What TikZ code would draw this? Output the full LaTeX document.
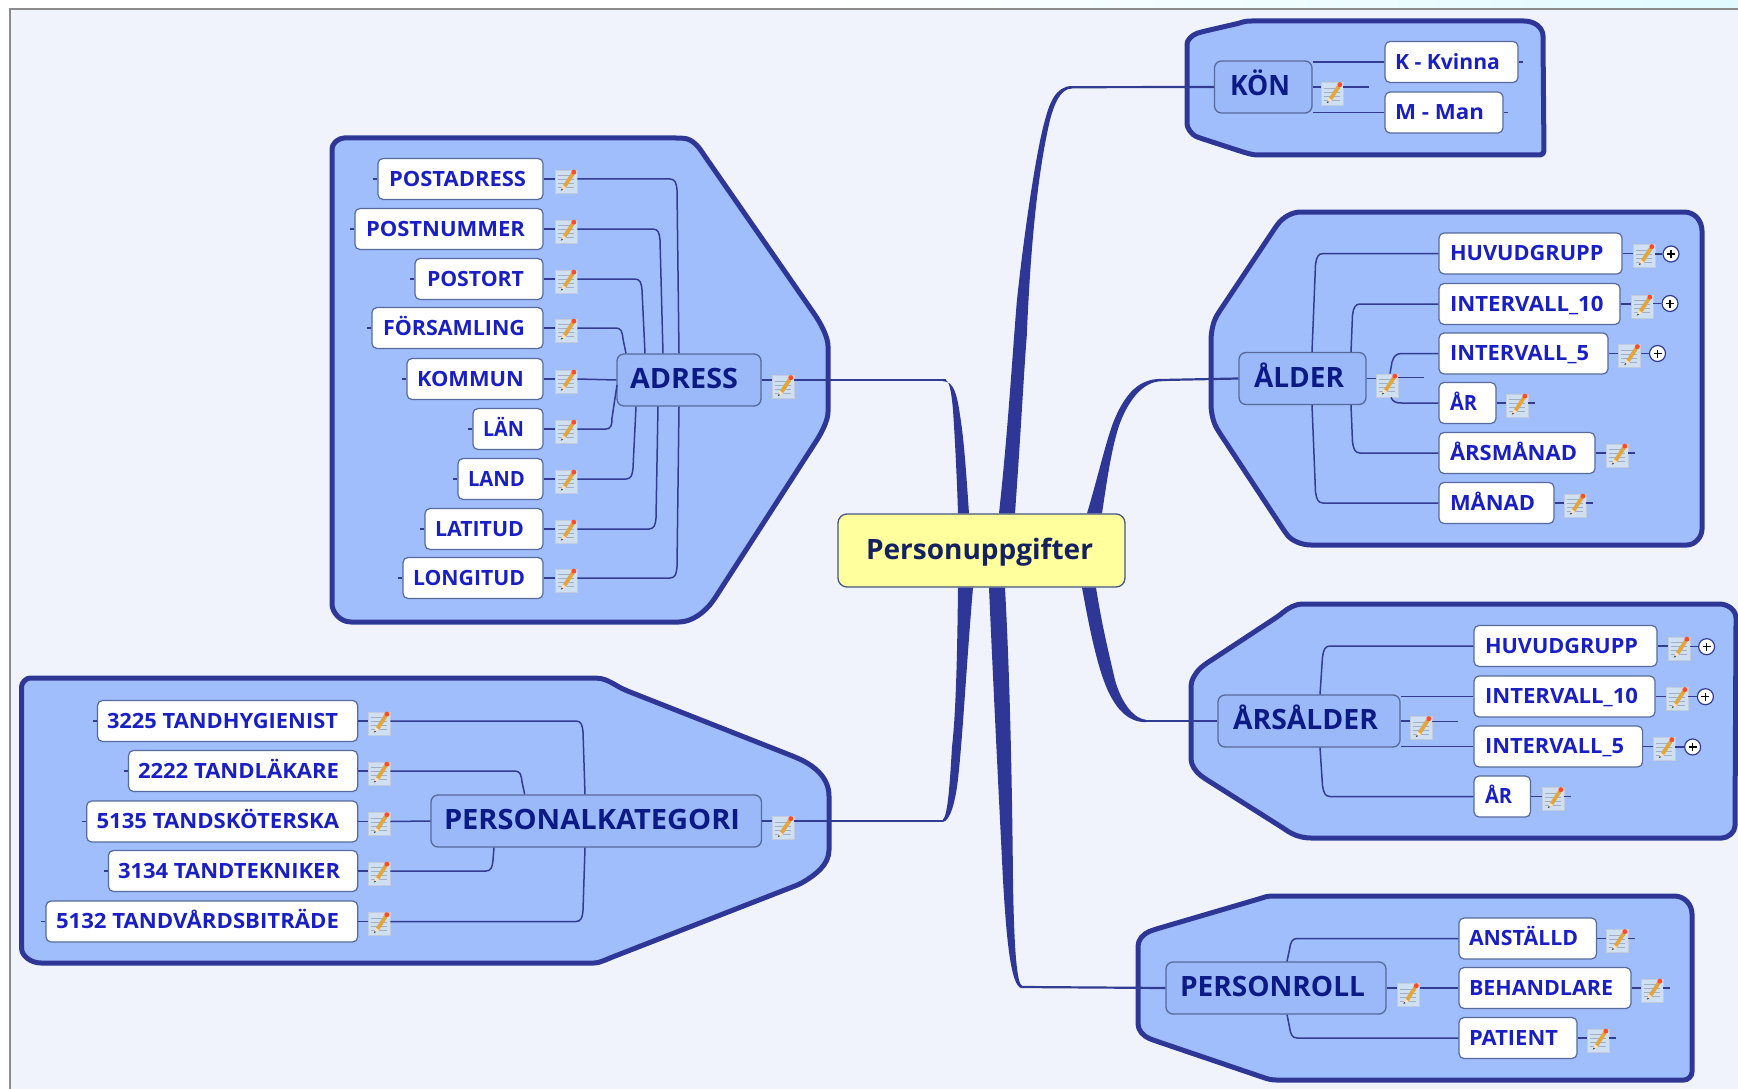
\documentclass[tikz,border=0pt]{standalone}
\usepackage{fontspec}
\usepackage{graphicx}
\setmainfont{Open Sans}
\definecolor{bgc}{HTML}{F0F3FC}
\definecolor{grpfill}{HTML}{A0BEFC}
\definecolor{grpline}{HTML}{2F3796}
\definecolor{prtfill}{HTML}{9BB9F9}
\definecolor{boxline}{HTML}{566A9C}
\definecolor{connc}{HTML}{323C92}
\definecolor{itemtxt}{HTML}{1A1FC4}
\definecolor{prttxt}{HTML}{0C1A86}
\definecolor{rootfill}{HTML}{FFFF9E}
\definecolor{roottxt}{HTML}{14205F}
\definecolor{noteblue}{HTML}{CFE0F2}
\definecolor{pencilc}{HTML}{E2A63A}
\newsavebox\fitbox
\newcommand{\fittext}[3]{\sbox\fitbox{\fontsize{#1}{#1}\selectfont\bfseries #3}\pgfmathsetmacro\fitr{#2/\wd\fitbox}\scalebox{\fitr}[1]{\usebox\fitbox}}
\tikzset{
  x=1pt,y=-1pt,
  grp/.style={draw=grpline,line width=5pt,fill=grpfill,line join=round,rounded corners=4pt},
  itembox/.style={draw=boxline,line width=1.2pt,fill=white,rounded corners=5pt,inner sep=0pt,minimum height=41pt,text height=14.6pt,text depth=0pt,text=itemtxt},
  prtbox/.style={draw=boxline,line width=1.3pt,fill=prtfill,rounded corners=7pt,inner sep=0pt,minimum height=52pt,text height=17.6pt,text depth=0pt,text=prttxt},
  rootbox/.style={draw=boxline!80!black,line width=1.3pt,fill=rootfill,rounded corners=9pt,inner sep=0pt,minimum height=73pt,text height=18pt,text depth=0pt,text=roottxt},
  conn/.style={draw=connc,line width=1.5pt},
  stub/.style={draw=connc,line width=1.5pt},
  main/.style={draw=connc,line width=2.2pt},
  taper/.style={fill=grpline},
  noteicon/.style={draw=white!65!boxline,line width=.8pt,fill=noteblue,inner sep=0pt,minimum width=22pt,minimum height=23pt},
  plusc/.style={circle,draw=connc,line width=1.2pt,fill=white,inner sep=0pt,minimum size=16pt,
    path picture={
      \draw[black,line width=1.5pt] ([xshift=-4pt]path picture bounding box.center) -- ([xshift=4pt]path picture bounding box.center);
      \draw[black,line width=1.5pt] ([yshift=-4pt]path picture bounding box.center) -- ([yshift=4pt]path picture bounding box.center);}},
}
% name, x1, x2, y, text x1, text x2, text
\newcommand{\mmitem}[7]{%
  \pgfmathsetmacro\bw{#3-#2}\pgfmathsetmacro\pad{#5-#2}\pgfmathsetmacro\tw{#6-#5}%
  \node[itembox,minimum width=\bw pt] (#1) at ({(#2+#3)/2},#4) {\makebox[\bw pt][l]{\hspace{\pad pt}\fittext{21}{\tw}{#7}}};}
\newcommand{\mmprt}[7]{%
  \pgfmathsetmacro\bw{#3-#2}\pgfmathsetmacro\pad{#5-#2}\pgfmathsetmacro\tw{#6-#5}%
  \node[prtbox,minimum width=\bw pt] (#1) at ({(#2+#3)/2},#4) {\makebox[\bw pt][l]{\hspace{\pad pt}\fittext{28}{\tw}{#7}}};}
% note icon: name, item, left x of the icon, stub from item east
\def\noteoff{-2.5pt}
\newcommand{\noteR}[3]{%
  \node[noteicon] (#1) at ({#3+11},0 |- #2.east) [yshift=\noteoff] {};
  \begin{scope}[shift={(#1.north west)}]
    \draw[white!45!boxline,line width=.6pt] (3,6) -- (19,6) (3,10) -- (19,10) (3,14) -- (19,14) (3,18) -- (19,18);
    \draw[pencilc,line width=3.8pt] (9.5,17.5) -- (18,4.5);
    \fill[orange!25!white] (6.5,20.5) -- (8,15.5) -- (11.8,18.2) -- cycle;
    \fill[black!75] (6.2,21) -- (7.2,19) -- (8.4,19.9) -- cycle;
    \fill[red!65!orange!85!white] (19.2,2.6) circle (2.5pt);
  \end{scope}
  \draw[stub] (#2.east) -- (#2.east -| #1.west);}
\newcommand{\noteP}[3]{\def\noteoff{-7pt}\noteR{#1}{#2}{#3}\def\noteoff{-2.5pt}}
% right-going corner: item, y, corner x, end x, dir, end anchor
\newcommand{\rkink}[6]{\draw[conn] (#1.west) -- ({#3+6},#2) .. controls ({#3+1},#2) and ({#3-.5},{#2+#5*4}) .. ({#3-1.5},{#2+#5*11}) -- (#4,0 |- #6);}
% left-going corner: icon, y, corner x, end x, dir, end anchor
\newcommand{\lkink}[6]{\draw[conn] (#1.east |- 0,#2) -- ({#3-5},#2) .. controls ({#3},#2) and ({#3+1.5},{#2+#5*4}) .. ({#3+2},{#2+#5*11}) -- (#4,0 |- #6);}
\begin{document}
\begin{tikzpicture}
\useasboundingbox (0,0) rectangle (1738,1089);
\fill[white] (0,0) rectangle (1738,1089);
\shade[left color=white,right color=blue!15!cyan!12] (800,0) rectangle (1738,8);
\fill[bgc] (10,9) rectangle (1738,1089);
\draw[black!45,line width=2pt] (10,1089) -- (10,9) -- (1738,9);

% groups
\draw[grp] (332,145) -- (340,138) -- (680,138) .. controls (692,139) and (698,146) .. (704,155) -- (815,315) .. controls (822,326) and (828,338) .. (828,350) -- (828,408) .. controls (828,420) and (822,432) .. (815,443) -- (715,598) .. controls (705,612) and (692,622) .. (675,622) -- (355,622) .. controls (340,622) and (332,612) .. (332,600) -- cycle;
\draw[grp] (21.7,690) .. controls (21.7,683) and (26,678) .. (34,678) -- (595,678) .. controls (607,679) and (615,685) .. (625,690) -- (795,757) .. controls (815,766) and (829,778) .. (829,800) -- (829,846) .. controls (829,865) and (815,875) .. (800,884) -- (610,958) .. controls (603,961) and (598,963) .. (590,963) -- (45,963) .. controls (30,963) and (21.7,955) .. (21.7,945) -- cycle;
\draw[grp] (1187,48) .. controls (1187,40) and (1192,35) .. (1201,32) -- (1240,23) .. controls (1246,21) and (1250,21) .. (1256,21) -- (1520,21) .. controls (1535,21) and (1543,28) .. (1543,40) -- (1544,155) -- (1262,155) .. controls (1254,155) and (1250,154) .. (1243,152) -- (1200,138) .. controls (1192,135) and (1187,128) .. (1187,120) -- cycle;
\draw[grp] (1211,345) .. controls (1211,332) and (1213,322) .. (1219,312) -- (1275,228) .. controls (1283,217) and (1292,212) .. (1305,212) -- (1680,212) .. controls (1695,212) and (1702,221) .. (1702,235) -- (1702,525) .. controls (1702,537) and (1695,545) .. (1683,545) -- (1315,545) .. controls (1302,545) and (1292,541) .. (1285,532) -- (1219,432) .. controls (1213,422) and (1211,412) .. (1211,400) -- cycle;
\draw[grp] (1191,690) .. controls (1191,680) and (1196,672) .. (1204,665) -- (1280,615) .. controls (1288,608) and (1296,604) .. (1306,604) -- (1715,604) .. controls (1728,604) and (1736,610) .. (1736,622) -- (1735,822) .. controls (1735,832) and (1728,838) .. (1718,838) -- (1315,838) .. controls (1300,838) and (1292,834) .. (1283,828) -- (1204,778) .. controls (1196,772) and (1191,765) .. (1191,755) -- cycle;
\draw[grp] (1138,950) .. controls (1138,940) and (1143,934) .. (1153,930) -- (1262,898) .. controls (1268,896) and (1272,896) .. (1278,896) -- (1670,896) .. controls (1685,896) and (1692,905) .. (1692,918) -- (1692,1068) .. controls (1692,1076) and (1688,1080) .. (1680,1080) -- (1280,1080) .. controls (1272,1080) and (1268,1079) .. (1262,1077) -- (1153,1040) .. controls (1143,1036) and (1138,1030) .. (1138,1020) -- cycle;

% root
\node[rootbox,minimum width=287pt] (root) at (981.5,550.5) {\makebox[287pt][l]{\hspace{28pt}\fittext{28}{227}{Personuppgifter}}};

% parents
\mmprt{adress}{617}{761}{380}{630}{738}{ADRESS}
\mmprt{kat}{431}{761.5}{821}{444}{740}{PERSONALKATEGORI}
\mmprt{kon}{1214.5}{1312}{87}{1230}{1290}{KÖN}
\mmprt{alder}{1239}{1366}{378.5}{1254}{1344}{ÅLDER}
\mmprt{arsalder}{1218}{1400}{721}{1233}{1378}{ÅRSÅLDER}
\mmprt{roll}{1166}{1386}{988}{1180}{1365}{PERSONROLL}

% ADRESS items
\mmitem{a1}{378}{543}{179}{389}{526}{POSTADRESS}
\mmitem{a2}{355}{543}{229}{366}{525}{POSTNUMMER}
\mmitem{a3}{415}{543}{279}{427}{524}{POSTORT}
\mmitem{a4}{372}{543}{328}{383}{525}{FÖRSAMLING}
\mmitem{a5}{407}{543}{379}{417}{524}{KOMMUN}
\mmitem{a6}{473}{543}{429}{483}{524}{LÄN}
\mmitem{a7}{458}{543}{479}{468}{525}{LAND}
\mmitem{a8}{425}{543}{529}{435}{524}{LATITUD}
\mmitem{a9}{403}{543}{578}{413}{525}{LONGITUD}
\foreach \k in {1,...,9}{\noteR{ai\k}{a\k}{555}\draw[stub] (a\k.west) -- ++(-4,0);}
\noteP{adri}{adress}{772}
\lkink{ai1}{179}{675}{679}{1}{adress.north}
\lkink{ai2}{229}{658}{663}{1}{adress.north}
\lkink{ai3}{279}{640}{645}{1}{adress.north}
\lkink{ai4}{328}{621}{626}{1}{adress.north}
\draw[conn] (ai5.east |- a5.east) -- (adress.west);
\draw[conn] (ai6.east |- a6.east) -- (606,429) .. controls (611,429) and (612,425) .. (612,418) -- (617,385);
\lkink{ai7}{479}{631}{636}{-1}{adress.south}
\lkink{ai8}{529}{654}{658}{-1}{adress.south}
\lkink{ai9}{578}{675}{679}{-1}{adress.south}

% PERSONALKATEGORI items
\mmitem{k1}{97.5}{357.7}{721}{107}{338}{3225 TANDHYGIENIST}
\mmitem{k2}{128.5}{357.7}{771}{138}{339}{2222 TANDLÄKARE}
\mmitem{k3}{86.7}{357.7}{821.5}{96.5}{339}{5135 TANDSKÖTERSKA}
\mmitem{k4}{108.4}{357.7}{871}{118}{340}{3134 TANDTEKNIKER}
\mmitem{k5}{46}{357.7}{921.5}{56}{339}{5132 TANDVÅRDSBITRÄDE}
\foreach \k in {1,...,5}{\noteR{ki\k}{k\k}{368}\draw[stub] (k\k.west) -- ++(-4,0);}
\noteP{kati}{kat}{772}
\lkink{ki1}{721}{581}{585}{1}{kat.north}
\lkink{ki2}{771}{520}{524.7}{1}{kat.north}
\draw[conn] (ki3.east |- k3.east) -- (kat.west);
\lkink{ki4}{871}{491}{494}{-1}{kat.south}
\lkink{ki5}{921.5}{581}{585}{-1}{kat.south}

% KÖN items
\mmitem{m1}{1385}{1518}{62}{1395}{1500}{K - Kvinna}
\mmitem{m2}{1385}{1503}{112.5}{1395}{1484}{M - Man}
\draw[stub] (m1.east) -- ++(4,0);
\draw[stub] (m2.east) -- ++(4,0);
\noteP{koni}{kon}{1321}
\coordinate (konend) at (1369,87);
\draw[conn] (koni.east |- kon.east) -- (konend);
\draw[conn] (kon.east |- m1.west) -- (m1.west);
\draw[conn] (kon.east |- m2.west) -- (m2.west);

% ÅLDER items
\mmitem{l1}{1439}{1622}{253.5}{1450}{1603.5}{HUVUDGRUPP}
\mmitem{l2}{1439}{1620}{304}{1450}{1603.5}{INTERVALL\_10}
\mmitem{l3}{1439}{1608}{353.5}{1450}{1589}{INTERVALL\_5}
\mmitem{l4}{1439}{1496}{403}{1450}{1477}{ÅR}
\mmitem{l5}{1439}{1595}{453}{1450}{1577}{ÅRSMÅNAD}
\mmitem{l6}{1439}{1554}{503}{1450}{1535}{MÅNAD}
\noteR{li1}{l1}{1633}\noteR{li2}{l2}{1631}\noteR{li3}{l3}{1618.5}
\noteR{li4}{l4}{1506}\noteR{li5}{l5}{1606}\noteR{li6}{l6}{1564}
\node[plusc] (lp1) at (1671,254) {};
\node[plusc] (lp2) at (1670,303.5) {};
\node[plusc] (lp3) at (1657.5,353.5) {};
\draw[stub] (li1.east |- lp1.west) -- (lp1.west);
\draw[stub] (li2.east |- lp2.west) -- (lp2.west);
\draw[stub] (li3.east |- lp3.west) -- (lp3.west);
\draw[stub] (li4.east |- l4.east) -- ++(7,0);
\draw[stub] (li5.east |- l5.east) -- ++(7,0);
\draw[stub] (li6.east |- l6.east) -- ++(7,0);
\noteP{aldi}{alder}{1376}
\coordinate (aldend) at (1424,377.5);
\draw[conn] (aldi.east |- aldend) -- (aldend);
\rkink{l1}{253.5}{1317}{1312}{1}{alder.north}
\rkink{l2}{304}{1354}{1351}{1}{alder.north}
\draw[conn] (l3.west) -- (1402,353.5) .. controls (1396,353.5) and (1394,356) .. (1392,362) -- (aldi.north -| 1390,0);
\draw[conn] (l4.west) -- (1402,403) .. controls (1396,403) and (1393,402) .. (aldi.south -| 1391,0);
\rkink{l5}{453}{1354}{1351}{-1}{alder.south}
\rkink{l6}{503}{1317}{1312}{-1}{alder.south}

% ÅRSÅLDER items
\mmitem{s1}{1474}{1657}{646}{1485}{1638}{HUVUDGRUPP}
\mmitem{s2}{1474}{1655}{696.5}{1485}{1638}{INTERVALL\_10}
\mmitem{s3}{1474}{1642.6}{746.5}{1485}{1624}{INTERVALL\_5}
\mmitem{s4}{1474}{1530.5}{796.5}{1485}{1512}{ÅR}
\noteR{si1}{s1}{1668}\noteR{si2}{s2}{1666}\noteR{si3}{s3}{1653}\noteR{si4}{s4}{1542}
\node[plusc] (sp1) at (1706.6,646.7) {};
\node[plusc] (sp2) at (1705.4,696.7) {};
\node[plusc] (sp3) at (1692.6,747) {};
\draw[stub] (si1.east |- sp1.west) -- (sp1.west);
\draw[stub] (si2.east |- sp2.west) -- (sp2.west);
\draw[stub] (si3.east |- sp3.west) -- (sp3.west);
\draw[stub] (si4.east |- s4.east) -- ++(7,0);
\noteP{asi}{arsalder}{1410}
\coordinate (asend) at (1458,721.5);
\draw[conn] (asi.east |- asend) -- (asend);
\rkink{s1}{646}{1324}{1320}{1}{arsalder.north}
\draw[conn] (s2.west) -- (s2.west -| arsalder.east);
\draw[conn] (s3.west) -- (s3.west -| arsalder.east);
\rkink{s4}{796.5}{1324}{1320}{-1}{arsalder.south}

% PERSONROLL items
\mmitem{r1}{1459}{1596.5}{938.5}{1469}{1578}{ANSTÄLLD}
\mmitem{r2}{1459}{1631}{988}{1469}{1613}{BEHANDLARE}
\mmitem{r3}{1459}{1577}{1038}{1469}{1558}{PATIENT}
\noteR{ri1}{r1}{1606}\noteR{ri2}{r2}{1641}\noteR{ri3}{r3}{1587}
\draw[stub] (ri1.east |- r1.east) -- ++(7,0);
\draw[stub] (ri2.east |- r2.east) -- ++(7,0);
\draw[stub] (ri3.east |- r3.east) -- ++(7,0);
\noteP{roli}{roll}{1397.5}
\draw[conn] (roli.east |- r2.west) -- (r2.west);
\rkink{r1}{938.5}{1291}{1287}{1}{roll.north}
\rkink{r3}{1038}{1291}{1287}{-1}{roll.south}

% main branches: thin part from the parent, tapered part into the root
\draw[main] (adri.east |- adress.east) -- (946,380);
\fill[taper] (943,378.8) .. controls (949,379) and (951,388) .. (953,410) .. controls (955,440) and (957,480) .. (958,0 |- root.north) -- (969,0 |- root.north) .. controls (966,470) and (964,440) .. (960,415) .. controls (957,395) and (954,381.2) .. (943,381.2) -- cycle;
\draw[main] (kati.east |- kat.east) -- (943,821);
\fill[taper] (958,0 |- root.south) .. controls (957,680) and (955,720) .. (952,747) .. controls (950,780) and (948,815) .. (943,819.6) -- (943,822) .. controls (951,820) and (955,800) .. (957,787) .. controls (962,750) and (966,670) .. (973,0 |- root.south) -- cycle;
\draw[main] (kon.west) -- (1072,87.2);
\fill[taper] (1072,86) .. controls (1055,86) and (1049,105) .. (1045,120) .. controls (1035,155) and (1022,250) .. (1016.7,303) .. controls (1012,360) and (1008,430) .. (999,0 |- root.north) -- (1015,0 |- root.north) .. controls (1021,430) and (1024,370) .. (1026.7,337) .. controls (1030,260) and (1036,180) .. (1050,120) .. controls (1054,105) and (1060,88.5) .. (1072,88.5) -- cycle;
\draw[main] (alder.west) -- (1162,380);
\fill[taper] (1162,378.8) .. controls (1145,379) and (1128,385) .. (1113,423) .. controls (1105,445) and (1097,480) .. (1087,0 |- root.north) -- (1102,0 |- root.north) .. controls (1107,480) and (1112,445) .. (1120,423) .. controls (1128,402) and (1142,381.2) .. (1162,381.2) -- cycle;
\draw[main] (arsalder.west) -- (1146,721);
\fill[taper] (1082,0 |- root.south) .. controls (1088,620) and (1097,670) .. (1110,695) .. controls (1118,710) and (1128,722) .. (1146,722.2) -- (1146,719.8) .. controls (1135,719) and (1122,705) .. (1115,680) .. controls (1108,650) and (1102,625) .. (1096,0 |- root.south) -- cycle;
\draw[main] (roll.west) -- (1022,987);
\fill[taper] (989,0 |- root.south) .. controls (993,680) and (998,780) .. (1003,880) .. controls (1006,930) and (1010,988) .. (1022,988.2) -- (1022,985.8) .. controls (1017,984) and (1014,950) .. (1013,880) .. controls (1012,780) and (1010,680) .. (1005,0 |- root.south) -- cycle;
\end{tikzpicture}
\end{document}
